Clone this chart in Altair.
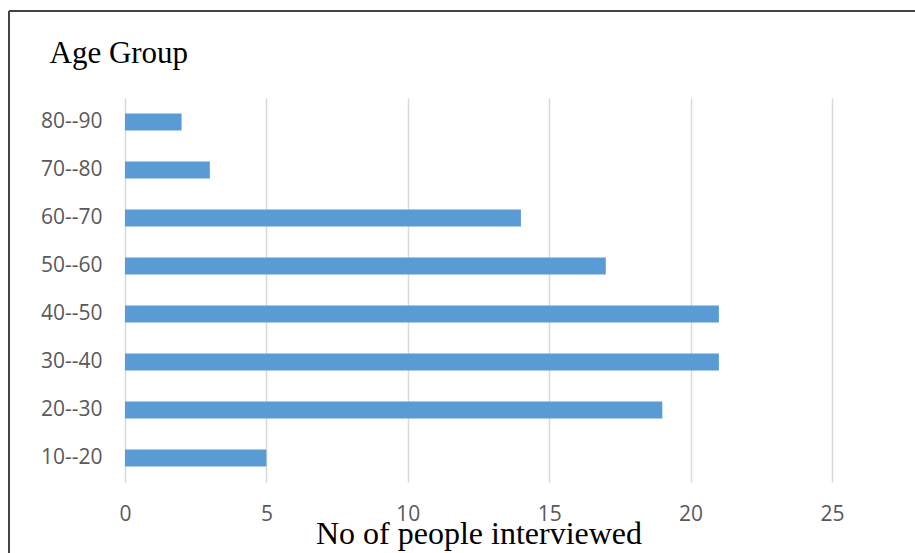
import altair as alt
import pandas as pd

# Respondents per age group
age_groups = ["80--90", "70--80", "60--70", "50--60", "40--50", "30--40", "20--30", "10--20"]
people = [2, 3, 14, 17, 21, 21, 19, 5]
x_ticks = [0, 5, 10, 15, 20, 25]

df = pd.DataFrame({"age": age_groups, "count": people})

FIG_W, FIG_H = 915, 553
PLOT_W, PLOT_H = 707, 384
LEFT, TOP = 125, 98

SERIF = "Liberation Serif"
SANS = "Open Sans"
LABEL_SIZE = 21

bars = alt.Chart(df).mark_bar(color="#5b9bd5").encode(
    x=alt.X(
        "count:Q",
        scale=alt.Scale(domain=[0, 25], nice=False),
        axis=alt.Axis(
            values=x_ticks,
            title="No of people interviewed",
            titleFont=SERIF,
            titleFontSize=32,
            titleFontWeight="normal",
            titleColor="#000000",
            titleBaseline="alphabetic",
            titleY=61,
            labelFont=SANS,
            labelFontSize=LABEL_SIZE,
            labelColor="#595959",
            labelPadding=21,
            labelFlush=False,
            labelOverlap=False,
            ticks=False,
            domain=False,
            grid=True,
            gridColor="#d9d9d9",
            gridWidth=1.5,
        ),
    ),
    y=alt.Y(
        "age:N",
        sort=age_groups,
        scale=alt.Scale(paddingInner=0.646, paddingOuter=0.323),
        axis=alt.Axis(
            title="Age Group",
            titleFont=SERIF,
            titleFontSize=31,
            titleFontWeight="normal",
            titleColor="#000000",
            titleAngle=0,
            titleAlign="left",
            titleBaseline="alphabetic",
            titleX=49 - LEFT,
            titleY=62 - TOP,
            labelFont=SANS,
            labelFontSize=LABEL_SIZE,
            labelColor="#595959",
            labelPadding=23,
            ticks=False,
            domain=False,
            grid=False,
        ),
    ),
)

# Frame lines along the top and left edges of the figure
frame_top = alt.Chart(df).mark_rule(color="#444444", strokeWidth=1.5).encode(
    x=alt.value(-LEFT + 9), x2=alt.value(FIG_W - LEFT), y=alt.value(-TOP + 11)
)
frame_left = alt.Chart(df).mark_rule(color="#444444", strokeWidth=1.5).encode(
    x=alt.value(-LEFT + 9), y=alt.value(-TOP + 11), y2=alt.value(FIG_H - TOP)
)

chart = (
    alt.layer(bars, frame_top, frame_left)
    .properties(
        width=PLOT_W,
        height=PLOT_H,
        background="#ffffff",
        autosize=alt.AutoSizeParams(type="none"),
        padding={
            "left": LEFT,
            "top": TOP,
            "right": FIG_W - LEFT - PLOT_W,
            "bottom": FIG_H - TOP - PLOT_H,
        },
    )
    .configure_view(stroke="transparent", strokeWidth=0)
)

chart.save("out.html", embed_options={"renderer": "svg", "actions": False})
